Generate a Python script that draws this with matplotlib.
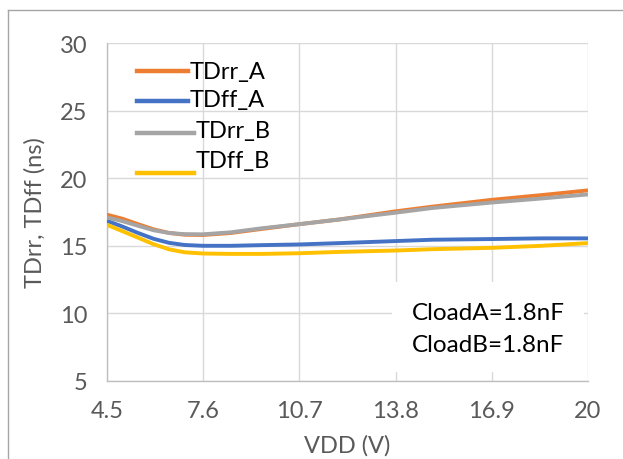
import matplotlib.pyplot as plt
from matplotlib.lines import Line2D
from matplotlib.patches import Rectangle

plt.rcParams['font.family'] = ['Lato', 'DejaVu Sans']

# VDD sweep (V) and delays (ns)
vdd = [4.5, 5.0, 5.5, 6.0, 6.5, 7.0, 7.6, 8.5, 9.5, 10.7, 12.0, 13.8, 15.0, 16.9, 18.5, 20.0]
tdrr_a = [17.3, 17.0, 16.6, 16.22, 15.95, 15.82, 15.8, 15.95, 16.25, 16.6, 16.95, 17.55, 17.9, 18.4, 18.75, 19.1]
tdff_a = [16.85, 16.42, 15.95, 15.52, 15.22, 15.06, 15.0, 15.0, 15.05, 15.1, 15.2, 15.35, 15.45, 15.5, 15.55, 15.55]
tdrr_b = [17.1, 16.82, 16.48, 16.15, 15.95, 15.86, 15.85, 16.0, 16.3, 16.6, 16.95, 17.45, 17.8, 18.2, 18.5, 18.8]
tdff_b = [16.55, 16.08, 15.6, 15.12, 14.74, 14.52, 14.43, 14.4, 14.4, 14.45, 14.55, 14.65, 14.75, 14.85, 15.0, 15.2]

series = [
    ('TDrr_A', tdrr_a, '#ED7D31'),
    ('TDff_A', tdff_a, '#4472C4'),
    ('TDrr_B', tdrr_b, '#A5A5A5'),
    ('TDff_B', tdff_b, '#FFC000'),
]

xticks = [4.5, 7.6, 10.7, 13.8, 16.9, 20]
xtick_labels = ['4.5', '7.6', '10.7', '13.8', '16.9', '20']
yticks = [5, 10, 15, 20, 25, 30]

fig = plt.figure(figsize=(6.23, 4.60), dpi=100)
ax = fig.add_axes([0.1717, 0.1696, 0.9438 - 0.1717, 0.9043 - 0.1696])

for name, vals, col in series:
    ax.plot(vdd, vals, color=col, lw=2.8, solid_capstyle='butt',
            solid_joinstyle='round', zorder=3)

ax.set_xlim(4.5, 20)
ax.set_ylim(5, 30)
ax.set_xticks(xticks)
ax.set_xticklabels(xtick_labels)
ax.set_yticks(yticks)
ax.grid(True, color='#d9d9d9', lw=1.0)
ax.set_axisbelow(True)
for s in ['top', 'right']:
    ax.spines[s].set_visible(False)
for s in ['left', 'bottom']:
    ax.spines[s].set_color('#bfbfbf')
    ax.spines[s].set_linewidth(1.0)
ax.tick_params(axis='both', length=0, labelsize=17, colors='#595959')
ax.tick_params(axis='y', pad=14)
ax.tick_params(axis='x', pad=14)
ax.set_xlabel('VDD (V)', fontsize=17, color='#595959', labelpad=9)
ax.set_ylabel('TDrr, TDff (ns)', fontsize=17, color='#595959', labelpad=10)

# legend, drawn by hand
handles = [
    (0.062, 0.168, 0.917, 0.917),
    (0.062, 0.168, 0.828, 0.834),
    (0.062, 0.181, 0.734, 0.740),
    (0.062, 0.181, 0.615, 0.651),
]
for (name, vals, col), (x0, x1, yl, yt) in zip(series, handles):
    ax.add_line(Line2D([x0, x1], [yl, yl], transform=ax.transAxes, color=col, lw=3.2, zorder=5))
    ax.text(x1 + 0.004, yt, name, transform=ax.transAxes, fontsize=17, color='black',
            va='center', ha='left', zorder=5)

# annotation box
ax.add_patch(Rectangle((0.593, 0.027), 0.399, 0.266, transform=ax.transAxes,
                       facecolor='white', edgecolor='none', zorder=2))
ax.text(0.634, 0.204, 'CloadA=1.8nF', transform=ax.transAxes, fontsize=17.5,
        va='center', ha='left', zorder=4)
ax.text(0.634, 0.109, 'CloadB=1.8nF', transform=ax.transAxes, fontsize=17.5,
        va='center', ha='left', zorder=4)

# outer frame lines
fig.add_artist(Line2D([8 / 623, 8 / 623], [0, 1 - 11 / 460], color='#a6a6a6', lw=1.0))
fig.add_artist(Line2D([8 / 623, 1], [1 - 11 / 460, 1 - 11 / 460], color='#a6a6a6', lw=1.0))

fig.savefig('out.png', dpi=100)
